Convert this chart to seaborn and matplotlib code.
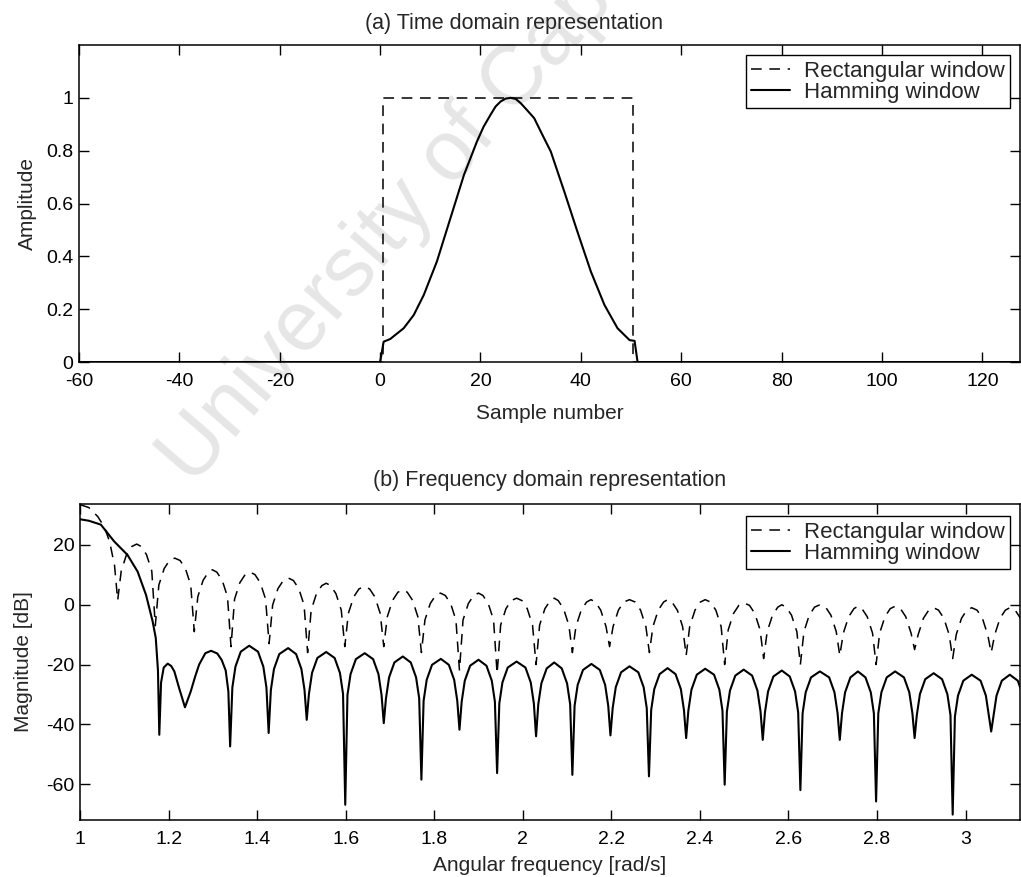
import matplotlib
matplotlib.use("Agg")
import matplotlib.pyplot as plt
from matplotlib.ticker import FormatStrFormatter
import seaborn as sns

# ---- (a) time domain ----
rect_n = [-60, 0.6, 0.6, 50.4, 50.4, 127.5]
rect_amp = [0, 0, 1, 1, 0, 0]

ham_n = [-60, 0, 0.7, 2, 4.7, 6.7, 8.7, 11.3, 14, 16.7, 19.3, 20.6, 22, 23, 24,
         25, 26, 27, 28, 29.2, 30.7, 32.2, 34, 36.7, 39.3, 42, 44.7, 47.3,
         49.7, 50.7, 51.3, 127.5]
ham_amp = [0, 0, 0.077, 0.087, 0.128, 0.178, 0.254, 0.38, 0.544, 0.708, 0.835,
           0.89, 0.936, 0.967, 0.986, 0.997, 1.0, 0.996, 0.98, 0.955, 0.923,
           0.865, 0.797, 0.645, 0.494, 0.342, 0.216, 0.128, 0.083, 0.08, 0, 0]

# ---- (b) frequency domain, one lobe per line ----
rect_freq = [
    1.000, 1.020, 1.040, 1.055, 1.067, 1.078, 1.085,
    1.093, 1.105, 1.117, 1.128, 1.138, 1.150, 1.162, 1.170,
    1.178, 1.190, 1.202, 1.214, 1.226, 1.238, 1.250, 1.258,
    1.266, 1.278, 1.290, 1.299, 1.309, 1.321, 1.333, 1.341,
    1.349, 1.361, 1.373, 1.384, 1.395, 1.407, 1.419, 1.427,
    1.435, 1.447, 1.459, 1.471, 1.482, 1.494, 1.506, 1.514,
    1.522, 1.534, 1.546, 1.556, 1.566, 1.578, 1.590, 1.598,
    1.606, 1.618, 1.630, 1.642, 1.654, 1.666, 1.678, 1.686,
    1.694, 1.706, 1.718, 1.729, 1.739, 1.751, 1.763, 1.771,
    1.779, 1.791, 1.803, 1.814, 1.825, 1.837, 1.849, 1.857,
    1.865, 1.877, 1.889, 1.900, 1.910, 1.922, 1.934, 1.942,
    1.950, 1.962, 1.974, 1.986, 1.998, 2.010, 2.022, 2.030,
    2.038, 2.050, 2.062, 2.071, 2.080, 2.092, 2.104, 2.112,
    2.120, 2.132, 2.144, 2.154, 2.164, 2.176, 2.188, 2.196,
    2.204, 2.216, 2.228, 2.241, 2.254, 2.266, 2.278, 2.286,
    2.294, 2.306, 2.318, 2.327, 2.337, 2.349, 2.361, 2.369,
    2.377, 2.389, 2.401, 2.412, 2.424, 2.436, 2.448, 2.456,
    2.464, 2.476, 2.488, 2.500, 2.512, 2.524, 2.536, 2.544,
    2.552, 2.564, 2.576, 2.585, 2.595, 2.607, 2.619, 2.627,
    2.635, 2.647, 2.659, 2.671, 2.684, 2.696, 2.708, 2.716,
    2.724, 2.736, 2.748, 2.757, 2.766, 2.778, 2.790, 2.798,
    2.806, 2.818, 2.830, 2.841, 2.853, 2.865, 2.877, 2.885,
    2.893, 2.905, 2.917, 2.928, 2.939, 2.951, 2.963, 2.971,
    2.979, 2.991, 3.003, 3.014, 3.026, 3.038, 3.050, 3.058,
    3.066, 3.078, 3.090, 3.100, 3.112, 3.124, 3.136,
]
rect_db = [
    33.5, 32.5, 29.5, 26.0, 21.0, 13.0, 1.5,
    11.3, 16.8, 19.5, 20.3, 19.5, 16.8, 11.3, -7,
    6.6, 12.1, 14.8, 15.6, 14.8, 12.1, 6.6, -9,
    2.7, 8.2, 10.9, 11.7, 10.9, 8.2, 2.7, -14,
    1.9, 7.4, 10.1, 10.9, 10.1, 7.4, 1.9, -13,
    -0.1, 5.4, 8.1, 8.9, 8.1, 5.4, -0.1, -16,
    -1.8, 3.7, 6.4, 7.2, 6.4, 3.7, -1.8, -14,
    -2.9, 2.6, 5.3, 6.1, 5.3, 2.6, -2.9, -14,
    -4.0, 1.5, 4.2, 5.0, 4.2, 1.5, -4.0, -16,
    -5.1, 0.4, 3.1, 3.9, 3.1, 0.4, -5.1, -22,
    -5.1, 0.4, 3.1, 3.9, 3.1, 0.4, -5.1, -23,
    -6.8, -1.3, 1.4, 2.2, 1.4, -1.3, -6.8, -20,
    -6.8, -1.3, 1.4, 2.2, 1.4, -1.3, -6.8, -16,
    -7.3, -1.8, 0.9, 1.7, 0.9, -1.8, -7.3, -14,
    -7.3, -1.8, 0.9, 1.7, 0.9, -1.8, -7.3, -16,
    -7.3, -1.8, 0.9, 1.7, 0.9, -1.8, -7.3, -17,
    -7.3, -1.8, 0.9, 1.7, 0.9, -1.8, -7.3, -20,
    -8.4, -2.9, -0.2, 0.6, -0.2, -2.9, -8.4, -18,
    -9.0, -3.5, -0.8, 0.0, -0.8, -3.5, -9.0, -20,
    -9.0, -3.5, -0.8, 0.0, -0.8, -3.5, -9.0, -17,
    -9.5, -4.0, -1.3, -0.5, -1.3, -4.0, -9.5, -20,
    -9.5, -4.0, -1.3, -0.5, -1.3, -4.0, -9.5, -15,
    -10.0, -4.5, -1.8, -1.0, -1.8, -4.5, -10.0, -18,
    -10.0, -4.5, -1.8, -1.0, -1.8, -4.5, -10.0, -16,
    -10.0, -4.5, -1.8, -1.0, -1.8, -4.5, -10.0,
]

ham_freq = [
    1.000, 1.020, 1.047, 1.077, 1.107, 1.130, 1.149, 1.164, 1.171, 1.176, 1.179,
    1.183, 1.189, 1.198, 1.206, 1.213, 1.224, 1.237, 1.250, 1.260, 1.269,
    1.283, 1.296, 1.310, 1.320, 1.329, 1.335, 1.339,
    1.344, 1.351, 1.363, 1.382, 1.402, 1.414, 1.421, 1.426,
    1.431, 1.438, 1.450, 1.470, 1.488, 1.500, 1.507, 1.512,
    1.517, 1.524, 1.536, 1.556, 1.575, 1.587, 1.594, 1.599,
    1.604, 1.611, 1.623, 1.643, 1.662, 1.674, 1.681, 1.686,
    1.691, 1.698, 1.710, 1.729, 1.747, 1.759, 1.766, 1.771,
    1.776, 1.783, 1.795, 1.815, 1.833, 1.845, 1.852, 1.857,
    1.862, 1.869, 1.881, 1.900, 1.918, 1.930, 1.937, 1.942,
    1.947, 1.954, 1.966, 1.986, 2.006, 2.018, 2.025, 2.030,
    2.035, 2.042, 2.054, 2.071, 2.088, 2.100, 2.107, 2.112,
    2.117, 2.124, 2.136, 2.155, 2.174, 2.186, 2.193, 2.198,
    2.203, 2.210, 2.222, 2.241, 2.261, 2.273, 2.280, 2.285,
    2.290, 2.297, 2.309, 2.327, 2.345, 2.357, 2.364, 2.369,
    2.374, 2.381, 2.393, 2.412, 2.432, 2.444, 2.451, 2.456,
    2.461, 2.468, 2.480, 2.499, 2.518, 2.530, 2.537, 2.542,
    2.547, 2.554, 2.566, 2.585, 2.603, 2.615, 2.622, 2.627,
    2.632, 2.639, 2.651, 2.671, 2.692, 2.704, 2.711, 2.716,
    2.721, 2.728, 2.740, 2.757, 2.774, 2.786, 2.793, 2.798,
    2.803, 2.810, 2.822, 2.841, 2.861, 2.873, 2.880, 2.885,
    2.890, 2.897, 2.909, 2.928, 2.947, 2.959, 2.966, 2.971,
    2.976, 2.983, 2.995, 3.014, 3.034, 3.046, 3.053, 3.058,
    3.063, 3.070, 3.082, 3.100, 3.118, 3.130,
]
ham_db = [
    28.6, 28.1, 26.8, 21.2, 16.7, 11.1, 3.3, -5.6, -11.1, -22.0, -43.5,
    -26.0, -21.0, -19.7, -20.5, -22.3, -28.0, -34.3, -29.0, -24.0, -20.0,
    -16.2, -15.4, -16.3, -18.5, -22.0, -29.0, -47.4,
    -27.7, -20.7, -15.7, -13.7, -15.7, -20.7, -27.7, -42.9,
    -28.5, -21.5, -16.5, -14.5, -16.5, -21.5, -28.5, -38.5,
    -29.8, -22.8, -17.8, -15.8, -17.8, -22.8, -29.8, -66.9,
    -30.2, -23.2, -18.2, -16.2, -18.2, -23.2, -30.2, -39.6,
    -31.3, -24.3, -19.3, -17.3, -19.3, -24.3, -31.3, -58.5,
    -32.1, -25.1, -20.1, -18.1, -20.1, -25.1, -32.1, -41.8,
    -32.4, -25.4, -20.4, -18.4, -20.4, -25.4, -32.4, -56.3,
    -33.0, -26.0, -21.0, -19.0, -21.0, -26.0, -33.0, -44.0,
    -33.3, -26.3, -21.3, -19.3, -21.3, -26.3, -33.3, -56.9,
    -33.8, -26.8, -21.8, -19.8, -21.8, -26.8, -33.8, -43.7,
    -34.6, -27.6, -22.6, -20.6, -22.6, -27.6, -34.6, -57.4,
    -35.2, -28.2, -23.2, -21.2, -23.2, -28.2, -35.2, -44.6,
    -35.4, -28.4, -23.4, -21.4, -23.4, -28.4, -35.4, -60.2,
    -35.7, -28.7, -23.7, -21.7, -23.7, -28.7, -35.7, -45.2,
    -36.0, -29.0, -24.0, -22.0, -24.0, -29.0, -36.0, -62.0,
    -36.3, -29.3, -24.3, -22.3, -24.3, -29.3, -36.3, -45.2,
    -36.3, -29.3, -24.3, -22.3, -24.3, -29.3, -36.3, -65.8,
    -36.3, -29.3, -24.3, -22.3, -24.3, -29.3, -36.3, -44.6,
    -36.9, -29.9, -24.9, -22.9, -24.9, -29.9, -36.9, -70.2,
    -37.4, -30.4, -25.4, -23.4, -25.4, -30.4, -37.4, -42.4,
    -37.4, -30.4, -25.4, -23.4, -25.4, -30.4,
]

time_xticks = [-60, -40, -20, 0, 20, 40, 60, 80, 100, 120]
time_yticks = [0, 0.2, 0.4, 0.6, 0.8, 1]
freq_xticks = [1, 1.2, 1.4, 1.6, 1.8, 2, 2.2, 2.4, 2.6, 2.8, 3]
freq_yticks = [-60, -40, -20, 0, 20]

sns.set_theme(style="white")
plt.rcParams["font.family"] = ["Liberation Sans", "DejaVu Sans"]
plt.rcParams["axes.unicode_minus"] = False

DASH = (0, (7, 5))

fig = plt.figure(figsize=(10.21, 8.77), dpi=100)
ax1 = fig.add_axes([0.0774, 0.5872, 0.9216, 0.3615])
ax2 = fig.add_axes([0.0784, 0.0650, 0.9206, 0.3603])

# watermark of the scanned page, behind the plots
fig.text(0.465, 0.853, "University of Cape Town", rotation=49, fontsize=61,
         color="#e6e6e6", ha="center", va="center", rotation_mode="anchor",
         zorder=-1)

# (a)
sns.lineplot(x=rect_n, y=rect_amp, ax=ax1, color="black", lw=1.1,
             linestyle=DASH, sort=False, estimator=None, label="Rectangular window")
sns.lineplot(x=ham_n, y=ham_amp, ax=ax1, color="black", lw=1.5,
             sort=False, estimator=None, label="Hamming window")
ax1.set_xlim(-60, 127.5)
ax1.set_ylim(0, 1.2)
ax1.set_xticks(time_xticks)
ax1.set_yticks(time_yticks)
ax1.yaxis.set_major_formatter(FormatStrFormatter("%g"))
ax1.set_title("(a) Time domain representation", fontsize=15.5, pad=11.5, x=0.462)
ax1.set_xlabel("Sample number", fontsize=15, labelpad=10)
ax1.set_ylabel("Amplitude", fontsize=15, labelpad=7)

# (b)
sns.lineplot(x=rect_freq, y=rect_db, ax=ax2, color="black", lw=1.1,
             linestyle=DASH, sort=False, estimator=None, label="Rectangular window")
sns.lineplot(x=ham_freq, y=ham_db, ax=ax2, color="black", lw=1.5,
             sort=False, estimator=None, label="Hamming window")
ax2.set_xlim(1, 3.123)
ax2.set_ylim(-72, 33.7)
ax2.set_xticks(freq_xticks)
ax2.set_yticks(freq_yticks)
ax2.xaxis.set_major_formatter(FormatStrFormatter("%g"))
ax2.set_title("(b) Frequency domain representation", fontsize=15.5, pad=13)
ax2.set_xlabel("Angular frequency [rad/s]", fontsize=15, labelpad=6)
ax2.set_ylabel("Magnitude [dB]", fontsize=15, labelpad=9.5)

legend_anchor = {ax1: (0.9894, 0.9685), ax2: (0.9894, 0.962)}
for ax in (ax1, ax2):
    ax.patch.set_alpha(0)
    ax.tick_params(direction="in", length=7, width=1, colors="black",
                   top=True, right=True, bottom=True, left=True,
                   labelsize=14)
    ax.tick_params(axis="x", pad=8)
    ax.tick_params(axis="y", pad=4)
    for sp in ax.spines.values():
        sp.set_color("black")
        sp.set_linewidth(1.1)
    leg = ax.legend(loc="upper right", bbox_to_anchor=legend_anchor[ax],
                    borderaxespad=0, fontsize=16, frameon=True, fancybox=False,
                    framealpha=1, edgecolor="black", handlelength=1.75,
                    handletextpad=0.6, labelspacing=0.0, borderpad=0.25)
    leg.get_frame().set_linewidth(1.0)

fig.savefig("out.png", dpi=100, facecolor="white")
